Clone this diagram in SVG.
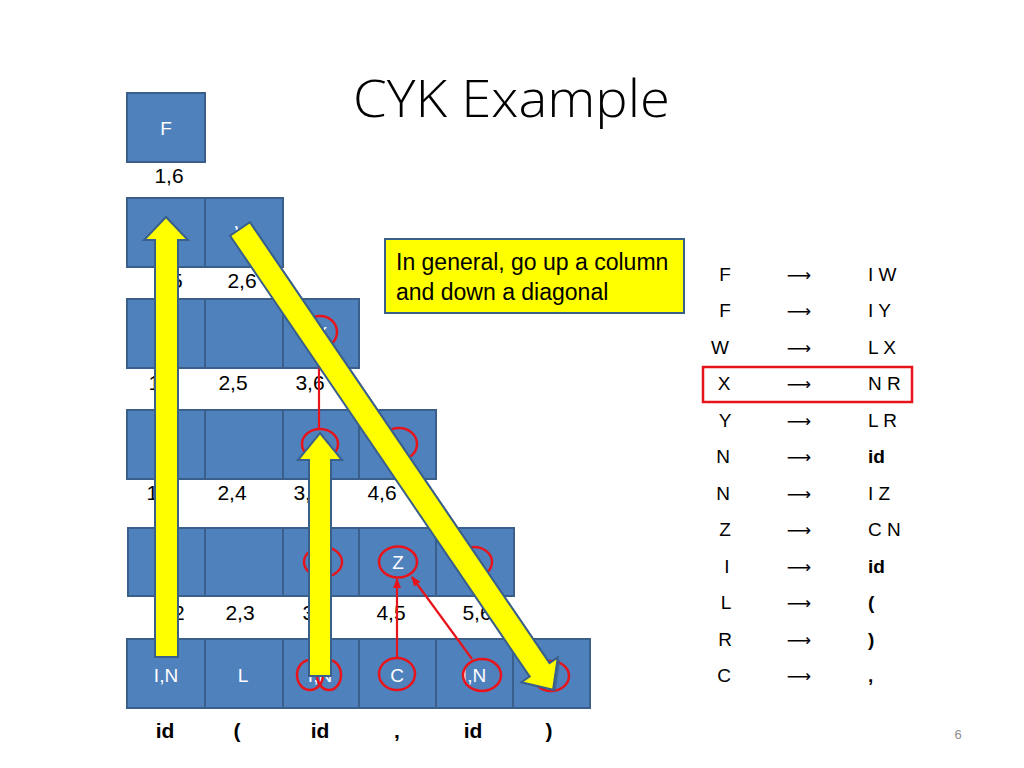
<svg xmlns="http://www.w3.org/2000/svg" width="1024" height="768" viewBox="0 0 1024 768">
<defs>
<style>
.cell{fill:#4F81BD;stroke:#3A5F8B;stroke-width:2}
.ct{font-family:"Liberation Sans",Arial,sans-serif;font-size:19px;fill:#FFFFFF;text-anchor:middle}
.lbl{font-family:"Liberation Sans",Arial,sans-serif;font-size:21px;fill:#000;text-anchor:middle}
.tok{font-family:"Liberation Sans",Arial,sans-serif;font-size:21px;font-weight:bold;fill:#000;text-anchor:middle}
.rc{fill:none;stroke:#E8141B;stroke-width:2.5}
.rl{fill:none;stroke:#E8141B;stroke-width:2.2}
.ya{fill:#FFFF00;stroke:#3A5F8B;stroke-width:2;stroke-linejoin:miter}
.sh{fill:#3A5F8B;opacity:0.75}
.lhs{font-family:"Liberation Sans",Arial,sans-serif;font-size:19px;fill:#000;text-anchor:middle}
.rhs{font-family:"Liberation Sans",Arial,sans-serif;font-size:19px;fill:#000}
.rhsb{font-family:"Liberation Sans",Arial,sans-serif;font-size:19px;fill:#000;font-weight:bold}
.arr{font-family:"DejaVu Sans",sans-serif;font-size:17px;fill:#000;text-anchor:middle}
</style>
<marker id="rh" markerWidth="10" markerHeight="8" refX="9" refY="4" orient="auto" markerUnits="userSpaceOnUse">
<path d="M0,0 L10,4 L0,8 z" fill="#E8141B"/>
</marker>
</defs>
<rect width="1024" height="768" fill="#FFFFFF"/>
<text x="353" y="117" font-family="Open Sans,Liberation Sans,sans-serif" font-weight="300" font-size="52" fill="#000" textLength="317" lengthAdjust="spacingAndGlyphs">CYK Example</text>

<g id="row6">
<g id="c16"><rect class="cell" x="127" y="93" width="78" height="69"/><text class="ct" x="166" y="135">F</text></g>
<text class="lbl" x="169" y="183">1,6</text>
</g>
<g id="row5">
<g id="c15"><rect class="cell" x="127" y="198" width="78" height="69"/></g>
<g id="c26"><rect class="cell" x="205" y="198" width="78" height="69"/><text class="ct" x="244" y="239">W</text></g>
<text class="lbl" x="168" y="288">1,5</text>
<text class="lbl" x="242" y="288">2,6</text>
</g>
<g id="row4">
<g id="c14"><rect class="cell" x="127" y="299" width="78" height="69"/></g>
<g id="c25"><rect class="cell" x="205" y="299" width="78" height="69"/></g>
<g id="c36"><rect class="cell" x="283" y="299" width="76" height="69"/><text class="ct" x="321" y="340">X</text></g>
<text class="lbl" x="163" y="390">1,4</text>
<text class="lbl" x="233" y="390">2,5</text>
<text class="lbl" x="310" y="390">3,6</text>
</g>
<g id="row3">
<g id="c13"><rect class="cell" x="127" y="410" width="78" height="69"/></g>
<g id="c24"><rect class="cell" x="205" y="410" width="78" height="69"/></g>
<g id="c35"><rect class="cell" x="283" y="410" width="76" height="69"/><text class="ct" x="320" y="451">N</text></g>
<g id="c46"><rect class="cell" x="359" y="410" width="77" height="69"/></g>
<text class="lbl" x="161" y="500">1,3</text>
<text class="lbl" x="232" y="500">2,4</text>
<text class="lbl" x="308" y="500">3,5</text>
<text class="lbl" x="382" y="500">4,6</text>
</g>
<g id="row2">
<g id="c12"><rect class="cell" x="128" y="528" width="77" height="68"/></g>
<g id="c23"><rect class="cell" x="205" y="528" width="78" height="68"/></g>
<g id="c34"><rect class="cell" x="283" y="528" width="76" height="68"/></g>
<g id="c45"><rect class="cell" x="359" y="528" width="77" height="68"/><text class="ct" x="398" y="569">Z</text></g>
<g id="c56"><rect class="cell" x="436" y="528" width="78" height="68"/></g>
<text class="lbl" x="170" y="620">1,2</text>
<text class="lbl" x="240" y="620">2,3</text>
<text class="lbl" x="317" y="620">3,4</text>
<text class="lbl" x="391" y="620">4,5</text>
<text class="lbl" x="477" y="620">5,6</text>
</g>
<g id="row1">
<g id="c11"><rect class="cell" x="127" y="639" width="78" height="69"/><text class="ct" x="166" y="682">I,N</text></g>
<g id="c22"><rect class="cell" x="205" y="639" width="78" height="69"/><text class="ct" x="243" y="682">L</text></g>
<g id="c33"><rect class="cell" x="283" y="639" width="76" height="69"/><text class="ct" x="320" y="682">I,N</text></g>
<g id="c44"><rect class="cell" x="359" y="639" width="77" height="69"/><text class="ct" x="397" y="682">C</text></g>
<g id="c55"><rect class="cell" x="436" y="639" width="77" height="69"/><text class="ct" x="474" y="682">I,N</text></g>
<g id="c66"><rect class="cell" x="513" y="639" width="77" height="69"/></g>
</g>
<g id="tokens">
<text class="tok" x="165" y="738">id</text>
<text class="tok" x="237" y="738">(</text>
<text class="tok" x="320" y="738">id</text>
<text class="tok" x="397" y="738">,</text>
<text class="tok" x="473" y="738">id</text>
<text class="tok" x="549" y="738">)</text>
</g>

<g id="callout">
<rect x="385" y="239" width="299" height="74" fill="#FFFF00" stroke="#3A5F8B" stroke-width="2"/>
<text x="396" y="270" font-family="Liberation Sans,Arial,sans-serif" font-size="23" fill="#000">In general, go up a column</text>
<text x="396" y="300" font-family="Liberation Sans,Arial,sans-serif" font-size="23" fill="#000">and down a diagonal</text>
</g>

<g id="rules">
<g id="r1"><text class="lhs" x="725" y="281">F</text><text class="arr" x="799" y="281">⟶</text><text class="rhs" x="868" y="281">I W</text></g>
<g id="r2"><text class="lhs" x="725" y="317">F</text><text class="arr" x="799" y="317">⟶</text><text class="rhs" x="868" y="317">I Y</text></g>
<g id="r3"><text class="lhs" x="720" y="354">W</text><text class="arr" x="799" y="354">⟶</text><text class="rhs" x="868" y="354">L X</text></g>
<g id="r4"><text class="lhs" x="724" y="390">X</text><text class="arr" x="799" y="390">⟶</text><text class="rhs" x="868" y="390">N R</text>
<rect x="703" y="367" width="209" height="35" fill="none" stroke="#E8141B" stroke-width="2.5"/></g>
<g id="r5"><text class="lhs" x="725" y="427">Y</text><text class="arr" x="799" y="427">⟶</text><text class="rhs" x="868" y="427">L R</text></g>
<g id="r6"><text class="lhs" x="723" y="463">N</text><text class="arr" x="799" y="463">⟶</text><text class="rhsb" x="868" y="463">id</text></g>
<g id="r7"><text class="lhs" x="723" y="500">N</text><text class="arr" x="799" y="500">⟶</text><text class="rhs" x="868" y="500">I Z</text></g>
<g id="r8"><text class="lhs" x="725" y="536">Z</text><text class="arr" x="799" y="536">⟶</text><text class="rhs" x="868" y="536">C N</text></g>
<g id="r9"><text class="lhs" x="727" y="573">I</text><text class="arr" x="799" y="573">⟶</text><text class="rhsb" x="868" y="573">id</text></g>
<g id="r10"><text class="lhs" x="726" y="609">L</text><text class="arr" x="799" y="609">⟶</text><text class="rhsb" x="868" y="609">(</text></g>
<g id="r11"><text class="lhs" x="725" y="646">R</text><text class="arr" x="799" y="646">⟶</text><text class="rhsb" x="868" y="646">)</text></g>
<g id="r12"><text class="lhs" x="724" y="682">C</text><text class="arr" x="799" y="682">⟶</text><text class="rhsb" x="868" y="682">,</text></g>
</g>

<g id="connectors">
<g id="red-marks">
<ellipse class="rc" cx="320" cy="332" rx="17" ry="16"/>
<line class="rl" x1="319" y1="348" x2="319" y2="429"/>
<ellipse class="rc" cx="320" cy="444" rx="18" ry="15"/>
<ellipse class="rc" cx="399" cy="444" rx="18" ry="16"/>
<ellipse class="rc" cx="323" cy="562" rx="19" ry="15"/>
<ellipse class="rc" cx="398" cy="562" rx="19" ry="15.5"/>
<ellipse class="rc" cx="474" cy="562" rx="18" ry="15"/>
<ellipse class="rc" cx="310" cy="675" rx="13" ry="15"/>
<ellipse class="rc" cx="329" cy="675" rx="12" ry="15"/>
<ellipse class="rc" cx="397" cy="674" rx="18" ry="16"/>
<ellipse class="rc" cx="482" cy="675" rx="19" ry="16"/>
<ellipse class="rc" cx="551" cy="676" rx="18" ry="15"/>
<line class="rl" x1="397" y1="658" x2="397" y2="579" marker-end="url(#rh)"/>
<line class="rl" x1="472" y1="659" x2="412" y2="577" marker-end="url(#rh)"/>
</g>
<g id="yellow-arrows">
<polygon class="ya" points="166,217 188,240 178,240 178,657 155,657 155,240 144,240"/>
<polygon class="ya" points="320,433 342,460 331,460 331,676 309,676 309,460 298,460"/>
<g transform="translate(240,229) rotate(55.8)">
<polygon class="sh" transform="translate(3,-1)" points="0,-12 533,-12 533,-22 557,0 533,22 533,12 0,12"/>
<polygon class="ya" points="0,-12 533,-12 533,-22 557,0 533,22 533,12 0,12"/>
</g>
</g>
</g>

<text x="958" y="739" font-family="Liberation Sans,Arial,sans-serif" font-size="13" fill="#8C8C8C" text-anchor="middle">6</text>
</svg>
